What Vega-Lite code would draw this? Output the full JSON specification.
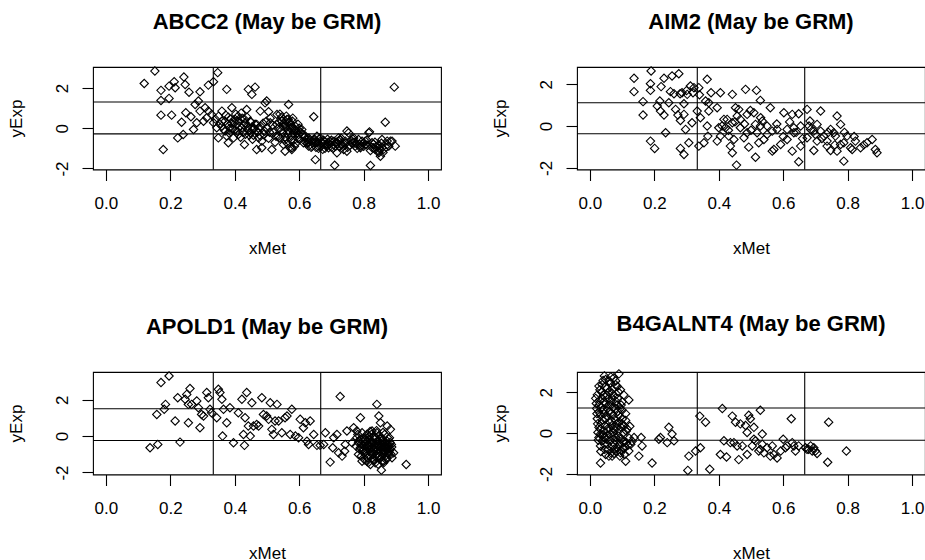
{
"$schema": "https://vega.github.io/schema/vega-lite/v6.json",
"background": "white",
"padding": {"left": 6, "top": 10, "right": 0, "bottom": 0},
"bounds": "flush",
"columns": 2,
"spacing": {"row": 202, "column": 136},
"resolve": {"scale": {"x": "independent", "y": "independent"}},
"datasets": {
"abcc2": [
{"xMet":0.152,"yExp":2.84},{"xMet":0.119,"yExp":2.22},{"xMet":0.171,"yExp":1.88},{"xMet":0.196,"yExp":2.09},{"xMet":0.212,"yExp":2.31},{"xMet":0.215,"yExp":2.01},{"xMet":0.242,"yExp":2.54},{"xMet":0.246,"yExp":2.17},{"xMet":0.258,"yExp":1.79},{"xMet":0.292,"yExp":1.81},{"xMet":0.318,"yExp":2.14},{"xMet":0.334,"yExp":2.31},{"xMet":0.347,"yExp":2.76},{"xMet":0.171,"yExp":1.38},{"xMet":0.196,"yExp":1.48},{"xMet":0.171,"yExp":0.65},{"xMet":0.204,"yExp":0.65},{"xMet":0.248,"yExp":0.77},{"xMet":0.235,"yExp":0.30},{"xMet":0.264,"yExp":0.57},{"xMet":0.277,"yExp":1.18},{"xMet":0.287,"yExp":1.35},{"xMet":0.292,"yExp":0.85},{"xMet":0.282,"yExp":0.27},{"xMet":0.303,"yExp":0.35},{"xMet":0.272,"yExp":-0.06},{"xMet":0.240,"yExp":-0.31},{"xMet":0.223,"yExp":-0.48},{"xMet":0.178,"yExp":-1.06},{"xMet":0.318,"yExp":0.85},{"xMet":0.328,"yExp":0.68},{"xMet":0.334,"yExp":0.27},{"xMet":0.344,"yExp":0.02},{"xMet":0.354,"yExp":0.19},{"xMet":0.349,"yExp":-0.48},{"xMet":0.370,"yExp":-0.14},{"xMet":0.380,"yExp":-0.72},{"xMet":0.391,"yExp":1.02},{"xMet":0.401,"yExp":0.44},{"xMet":0.411,"yExp":-0.31},{"xMet":0.422,"yExp":0.02},{"xMet":0.430,"yExp":-0.81},{"xMet":0.437,"yExp":0.93},{"xMet":0.442,"yExp":1.93},{"xMet":0.463,"yExp":2.04},{"xMet":0.453,"yExp":1.68},{"xMet":0.468,"yExp":0.19},{"xMet":0.474,"yExp":-0.48},{"xMet":0.479,"yExp":0.85},{"xMet":0.468,"yExp":-1.06},{"xMet":0.308,"yExp":1.02},{"xMet":0.313,"yExp":0.52},{"xMet":0.360,"yExp":0.85},{"xMet":0.375,"yExp":-0.39},{"xMet":0.396,"yExp":-0.48},{"xMet":0.406,"yExp":0.19},{"xMet":0.432,"yExp":0.27},{"xMet":0.448,"yExp":-0.23},{"xMet":0.458,"yExp":-0.06},{"xMet":0.484,"yExp":-0.64},{"xMet":0.494,"yExp":1.26},{"xMet":0.375,"yExp":1.93},
{"xMet":0.499,"yExp":1.35},{"xMet":0.505,"yExp":0.82},{"xMet":0.510,"yExp":0.27},{"xMet":0.515,"yExp":-1.06},{"xMet":0.531,"yExp":0.68},{"xMet":0.536,"yExp":0.02},{"xMet":0.541,"yExp":-0.48},{"xMet":0.546,"yExp":0.35},{"xMet":0.551,"yExp":-0.81},{"xMet":0.556,"yExp":-1.14},{"xMet":0.562,"yExp":0.44},{"xMet":0.567,"yExp":1.18},{"xMet":0.572,"yExp":0.02},{"xMet":0.577,"yExp":-0.97},{"xMet":0.582,"yExp":-0.23},{"xMet":0.588,"yExp":0.10},{"xMet":0.598,"yExp":-0.31},{"xMet":0.608,"yExp":-0.06},{"xMet":0.613,"yExp":-0.72},{"xMet":0.624,"yExp":-0.56},{"xMet":0.629,"yExp":-0.89},{"xMet":0.639,"yExp":-0.64},{"xMet":0.645,"yExp":0.57},{"xMet":0.650,"yExp":-1.56},{"xMet":0.660,"yExp":-0.89},{"xMet":0.665,"yExp":-0.48},{"xMet":0.670,"yExp":-0.72},{"xMet":0.681,"yExp":-0.81},{"xMet":0.691,"yExp":-0.97},{"xMet":0.696,"yExp":-0.64},{"xMet":0.707,"yExp":-0.81},{"xMet":0.710,"yExp":-1.84},{"xMet":0.717,"yExp":-1.22},{"xMet":0.722,"yExp":-0.48},{"xMet":0.733,"yExp":-0.81},{"xMet":0.743,"yExp":-0.64},{"xMet":0.748,"yExp":-1.14},{"xMet":0.753,"yExp":-0.23},{"xMet":0.764,"yExp":-0.72},{"xMet":0.774,"yExp":-0.89},{"xMet":0.784,"yExp":-0.56},{"xMet":0.790,"yExp":-0.97},{"xMet":0.795,"yExp":-0.64},{"xMet":0.805,"yExp":-0.81},{"xMet":0.816,"yExp":-0.23},{"xMet":0.821,"yExp":-1.85},{"xMet":0.826,"yExp":-0.72},{"xMet":0.836,"yExp":-1.06},{"xMet":0.847,"yExp":-1.14},{"xMet":0.852,"yExp":-1.39},{"xMet":0.857,"yExp":-0.97},{"xMet":0.867,"yExp":0.30},{"xMet":0.873,"yExp":-0.64},{"xMet":0.878,"yExp":-0.89},{"xMet":0.888,"yExp":-0.64},{"xMet":0.898,"yExp":-0.89},{"xMet":0.895,"yExp":2.04},
{"xMet":0.551,"yExp":0.44},{"xMet":0.556,"yExp":0.19},{"xMet":0.567,"yExp":0.27},{"xMet":0.577,"yExp":0.02},{"xMet":0.598,"yExp":-0.14},{"xMet":0.619,"yExp":-0.39},{"xMet":0.629,"yExp":-0.72},{"xMet":0.645,"yExp":-0.56},{"xMet":0.686,"yExp":-0.81},{"xMet":0.722,"yExp":-0.64},{"xMet":0.738,"yExp":-1.06},{"xMet":0.748,"yExp":-0.14},{"xMet":0.769,"yExp":-0.48},{"xMet":0.790,"yExp":-0.89},{"xMet":0.805,"yExp":-0.64},{"xMet":0.818,"yExp":-0.18},{"xMet":0.821,"yExp":-1.11},{"xMet":0.831,"yExp":-0.97},{"xMet":0.847,"yExp":-1.22},{"xMet":0.857,"yExp":-0.56},{"xMet":0.873,"yExp":-0.81},{"xMet":0.883,"yExp":-0.64},{"xMet":0.577,"yExp":-1.06},{"xMet":0.484,"yExp":-0.97},
{"xMet":0.34,"yExp":0.45},{"xMet":0.35,"yExp":0.6},{"xMet":0.36,"yExp":0.1},{"xMet":0.37,"yExp":0.35},{"xMet":0.38,"yExp":0.55},{"xMet":0.385,"yExp":0.0},{"xMet":0.39,"yExp":0.25},{"xMet":0.40,"yExp":-0.1},{"xMet":0.41,"yExp":0.6},{"xMet":0.415,"yExp":0.1},{"xMet":0.42,"yExp":0.75},{"xMet":0.425,"yExp":-0.2},{"xMet":0.43,"yExp":0.45},{"xMet":0.44,"yExp":0.1},{"xMet":0.445,"yExp":-0.35},{"xMet":0.45,"yExp":0.3},{"xMet":0.455,"yExp":-0.55},{"xMet":0.46,"yExp":0.0},{"xMet":0.47,"yExp":-0.2},{"xMet":0.48,"yExp":0.1},{"xMet":0.49,"yExp":-0.3},{"xMet":0.50,"yExp":0.0},{"xMet":0.505,"yExp":-0.5},{"xMet":0.51,"yExp":0.5},{"xMet":0.52,"yExp":-0.2},{"xMet":0.525,"yExp":-0.7},{"xMet":0.53,"yExp":0.2},{"xMet":0.535,"yExp":-0.4},{"xMet":0.54,"yExp":0.7},{"xMet":0.545,"yExp":-0.1},{"xMet":0.55,"yExp":0.1},{"xMet":0.555,"yExp":-0.6},{"xMet":0.56,"yExp":0.6},{"xMet":0.565,"yExp":-0.3},{"xMet":0.57,"yExp":0.3},{"xMet":0.575,"yExp":-0.6},{"xMet":0.58,"yExp":0.5},{"xMet":0.585,"yExp":-0.9},{"xMet":0.59,"yExp":-0.1},{"xMet":0.595,"yExp":-0.5},{"xMet":0.60,"yExp":0.0},{"xMet":0.61,"yExp":-0.3},{"xMet":0.62,"yExp":-0.7},{"xMet":0.63,"yExp":-0.5},{"xMet":0.64,"yExp":-0.9},{"xMet":0.65,"yExp":-0.7},{"xMet":0.655,"yExp":-0.4},{"xMet":0.66,"yExp":-1.0},{"xMet":0.675,"yExp":-0.6},{"xMet":0.68,"yExp":-1.0},{"xMet":0.69,"yExp":-0.7},{"xMet":0.70,"yExp":-0.6},{"xMet":0.705,"yExp":-1.0},{"xMet":0.715,"yExp":-0.7},{"xMet":0.725,"yExp":-0.9},{"xMet":0.73,"yExp":-0.5},{"xMet":0.74,"yExp":-0.8},{"xMet":0.75,"yExp":-0.95},{"xMet":0.76,"yExp":-0.6},{"xMet":0.77,"yExp":-0.7},{"xMet":0.78,"yExp":-1.0},{"xMet":0.80,"yExp":-0.9},{"xMet":0.81,"yExp":-0.6},{"xMet":0.83,"yExp":-0.8},{"xMet":0.84,"yExp":-0.9},{"xMet":0.85,"yExp":-1.0},{"xMet":0.86,"yExp":-1.2},{"xMet":0.87,"yExp":-0.95},
{"xMet":0.545,"yExp":0.55},{"xMet":0.550,"yExp":-0.25},{"xMet":0.553,"yExp":0.25},{"xMet":0.557,"yExp":-0.45},{"xMet":0.560,"yExp":0.05},{"xMet":0.563,"yExp":-0.75},{"xMet":0.566,"yExp":0.45},{"xMet":0.568,"yExp":-0.15},{"xMet":0.571,"yExp":-0.95},{"xMet":0.574,"yExp":0.15},{"xMet":0.576,"yExp":-0.40},{"xMet":0.579,"yExp":0.35},{"xMet":0.583,"yExp":-0.60},{"xMet":0.586,"yExp":-0.05},{"xMet":0.590,"yExp":-0.75},{"xMet":0.593,"yExp":-0.25},{"xMet":0.596,"yExp":0.20},{"xMet":0.600,"yExp":-0.55},{"xMet":0.605,"yExp":-0.20},{"xMet":0.615,"yExp":-0.45},{"xMet":0.625,"yExp":-0.75},{"xMet":0.632,"yExp":-0.60},{"xMet":0.637,"yExp":-0.95},{"xMet":0.642,"yExp":-0.75},{"xMet":0.648,"yExp":-0.55},{"xMet":0.652,"yExp":-0.95},{"xMet":0.658,"yExp":-0.70},{"xMet":0.662,"yExp":-0.55},{"xMet":0.668,"yExp":-0.90},{"xMet":0.673,"yExp":-1.05},{"xMet":0.678,"yExp":-0.65},{"xMet":0.684,"yExp":-0.90},{"xMet":0.688,"yExp":-0.55},{"xMet":0.694,"yExp":-0.80},{"xMet":0.700,"yExp":-0.95},{"xMet":0.708,"yExp":-0.65},{"xMet":0.713,"yExp":-0.90},{"xMet":0.719,"yExp":-0.75},{"xMet":0.727,"yExp":-0.60},{"xMet":0.735,"yExp":-0.90},{"xMet":0.745,"yExp":-0.75},{"xMet":0.758,"yExp":-0.85},{"xMet":0.767,"yExp":-0.55},{"xMet":0.776,"yExp":-0.75},{"xMet":0.787,"yExp":-0.80},{"xMet":0.798,"yExp":-0.75},{"xMet":0.812,"yExp":-0.85},{"xMet":0.825,"yExp":-0.95},{"xMet":0.835,"yExp":-0.70},{"xMet":0.845,"yExp":-0.85},{"xMet":0.855,"yExp":-0.75},{"xMet":0.862,"yExp":-1.05},{"xMet":0.36,"yExp":0.35},{"xMet":0.365,"yExp":-0.05},{"xMet":0.372,"yExp":0.65},{"xMet":0.378,"yExp":0.2},{"xMet":0.383,"yExp":-0.25},{"xMet":0.388,"yExp":0.45},{"xMet":0.393,"yExp":-0.05},{"xMet":0.398,"yExp":0.3},{"xMet":0.403,"yExp":0.7},{"xMet":0.408,"yExp":-0.15},{"xMet":0.413,"yExp":0.35},{"xMet":0.418,"yExp":-0.45},{"xMet":0.423,"yExp":0.5},{"xMet":0.428,"yExp":0.15},{"xMet":0.433,"yExp":-0.3},{"xMet":0.438,"yExp":0.55},{"xMet":0.443,"yExp":-0.1},{"xMet":0.448,"yExp":0.35},{"xMet":0.453,"yExp":0.05},{"xMet":0.458,"yExp":-0.35},{"xMet":0.463,"yExp":0.2},{"xMet":0.473,"yExp":0.0},{"xMet":0.478,"yExp":-0.35},{"xMet":0.488,"yExp":0.25},{"xMet":0.493,"yExp":-0.15},{"xMet":0.498,"yExp":0.35},{"xMet":0.508,"yExp":-0.2},{"xMet":0.518,"yExp":0.15},{"xMet":0.528,"yExp":-0.4},{"xMet":0.538,"yExp":0.3}
],
"aim2": [
{"xMet":0.137,"yExp":2.29},{"xMet":0.190,"yExp":2.64},{"xMet":0.230,"yExp":2.29},{"xMet":0.255,"yExp":2.40},{"xMet":0.276,"yExp":2.51},{"xMet":0.137,"yExp":1.65},{"xMet":0.188,"yExp":2.03},{"xMet":0.188,"yExp":1.71},{"xMet":0.221,"yExp":1.89},{"xMet":0.250,"yExp":1.65},{"xMet":0.261,"yExp":1.55},{"xMet":0.286,"yExp":1.60},{"xMet":0.302,"yExp":1.52},{"xMet":0.312,"yExp":1.92},{"xMet":0.323,"yExp":1.84},{"xMet":0.338,"yExp":1.84},{"xMet":0.364,"yExp":2.24},{"xMet":0.376,"yExp":1.60},{"xMet":0.405,"yExp":1.60},{"xMet":0.442,"yExp":1.52},{"xMet":0.483,"yExp":1.76},{"xMet":0.517,"yExp":1.71},{"xMet":0.529,"yExp":1.23},{"xMet":0.165,"yExp":1.17},{"xMet":0.165,"yExp":0.53},{"xMet":0.217,"yExp":1.20},{"xMet":0.209,"yExp":0.96},{"xMet":0.219,"yExp":0.72},{"xMet":0.230,"yExp":0.53},{"xMet":0.245,"yExp":1.12},{"xMet":0.266,"yExp":0.80},{"xMet":0.273,"yExp":0.53},{"xMet":0.281,"yExp":0.27},{"xMet":0.292,"yExp":0.56},{"xMet":0.297,"yExp":-0.16},{"xMet":0.292,"yExp":1.07},{"xMet":0.333,"yExp":0.72},{"xMet":0.343,"yExp":0.40},{"xMet":0.359,"yExp":1.20},{"xMet":0.369,"yExp":1.12},{"xMet":0.369,"yExp":0.72},{"xMet":0.364,"yExp":0.00},{"xMet":0.366,"yExp":-0.48},{"xMet":0.395,"yExp":0.88},{"xMet":0.400,"yExp":-0.08},{"xMet":0.416,"yExp":0.32},{"xMet":0.421,"yExp":-0.08},{"xMet":0.431,"yExp":-0.48},{"xMet":0.442,"yExp":0.16},{"xMet":0.452,"yExp":0.88},{"xMet":0.457,"yExp":0.48},{"xMet":0.462,"yExp":0.80},{"xMet":0.467,"yExp":-0.08},{"xMet":0.478,"yExp":-0.56},{"xMet":0.488,"yExp":0.56},{"xMet":0.498,"yExp":0.75},{"xMet":0.509,"yExp":0.64},{"xMet":0.514,"yExp":0.08},{"xMet":0.519,"yExp":-0.32},{"xMet":0.535,"yExp":0.24},{"xMet":0.550,"yExp":0.00},{"xMet":0.560,"yExp":0.88},{"xMet":0.566,"yExp":-0.24},{"xMet":0.571,"yExp":-1.12},{"xMet":0.602,"yExp":0.64},{"xMet":0.612,"yExp":-0.16},{"xMet":0.628,"yExp":0.56},{"xMet":0.633,"yExp":-0.32},{"xMet":0.648,"yExp":0.59},{"xMet":0.654,"yExp":0.00},{"xMet":0.674,"yExp":0.80},{"xMet":0.683,"yExp":0.24},{"xMet":0.695,"yExp":-0.24},{"xMet":0.716,"yExp":0.72},{"xMet":0.705,"yExp":-0.72},{"xMet":0.726,"yExp":-0.48},{"xMet":0.736,"yExp":-0.72},{"xMet":0.747,"yExp":-0.16},{"xMet":0.762,"yExp":-0.48},{"xMet":0.767,"yExp":0.48},{"xMet":0.778,"yExp":0.08},{"xMet":0.788,"yExp":-0.80},{"xMet":0.798,"yExp":-0.48},{"xMet":0.809,"yExp":-1.04},{"xMet":0.824,"yExp":-0.72},{"xMet":0.840,"yExp":-1.04},{"xMet":0.860,"yExp":-0.80},{"xMet":0.876,"yExp":-0.64},{"xMet":0.886,"yExp":-1.12},{"xMet":0.891,"yExp":-1.28},{"xMet":0.235,"yExp":-0.32},{"xMet":0.188,"yExp":-0.72},{"xMet":0.201,"yExp":-1.07},{"xMet":0.281,"yExp":-1.07},{"xMet":0.292,"yExp":-1.36},{"xMet":0.307,"yExp":-0.80},{"xMet":0.338,"yExp":-0.96},{"xMet":0.354,"yExp":-0.80},{"xMet":0.395,"yExp":-0.72},{"xMet":0.436,"yExp":-0.96},{"xMet":0.442,"yExp":-1.28},{"xMet":0.455,"yExp":-1.87},{"xMet":0.493,"yExp":-1.01},{"xMet":0.514,"yExp":-1.49},{"xMet":0.524,"yExp":-0.80},{"xMet":0.566,"yExp":-1.20},{"xMet":0.592,"yExp":-0.88},{"xMet":0.628,"yExp":-1.20},{"xMet":0.648,"yExp":-1.71},{"xMet":0.654,"yExp":-0.96},{"xMet":0.695,"yExp":-1.17},{"xMet":0.736,"yExp":-0.96},{"xMet":0.747,"yExp":-1.17},{"xMet":0.767,"yExp":-1.20},{"xMet":0.788,"yExp":-1.68},{"xMet":0.814,"yExp":-1.12},{"xMet":0.317,"yExp":0.16},{"xMet":0.405,"yExp":-0.48},{"xMet":0.447,"yExp":-0.64},{"xMet":0.488,"yExp":-0.32},{"xMet":0.540,"yExp":-0.64},{"xMet":0.612,"yExp":-0.64},{"xMet":0.674,"yExp":-0.56},{"xMet":0.716,"yExp":-0.24},{"xMet":0.757,"yExp":-0.32},{"xMet":0.778,"yExp":-0.88},{"xMet":0.426,"yExp":0.32},{"xMet":0.467,"yExp":0.32},{"xMet":0.529,"yExp":0.00},{"xMet":0.581,"yExp":-0.16},{"xMet":0.633,"yExp":-0.08},{"xMet":0.685,"yExp":-0.16},{"xMet":0.705,"yExp":0.08},
{"xMet":0.45,"yExp":0.2},{"xMet":0.48,"yExp":0.1},{"xMet":0.50,"yExp":-0.2},{"xMet":0.53,"yExp":0.4},{"xMet":0.55,"yExp":-0.4},{"xMet":0.58,"yExp":0.1},{"xMet":0.60,"yExp":-0.5},{"xMet":0.62,"yExp":0.2},{"xMet":0.64,"yExp":-0.3},{"xMet":0.66,"yExp":-0.6},{"xMet":0.68,"yExp":0.0},{"xMet":0.70,"yExp":-0.4},{"xMet":0.72,"yExp":-0.6},{"xMet":0.74,"yExp":-0.3},{"xMet":0.76,"yExp":-0.9},{"xMet":0.79,"yExp":-0.3},{"xMet":0.82,"yExp":-0.5},{"xMet":0.85,"yExp":-0.9},{"xMet":0.41,"yExp":0.0},{"xMet":0.43,"yExp":-0.2},{"xMet":0.30,"yExp":1.7},{"xMet":0.32,"yExp":1.6},{"xMet":0.34,"yExp":1.5},{"xMet":0.28,"yExp":1.55}
],
"apold1": [
{"xMet":0.171,"yExp":2.94},{"xMet":0.196,"yExp":3.30},{"xMet":0.137,"yExp":-0.64},{"xMet":0.161,"yExp":-0.46},{"xMet":0.158,"yExp":1.19},{"xMet":0.181,"yExp":1.47},{"xMet":0.185,"yExp":1.74},{"xMet":0.215,"yExp":0.83},{"xMet":0.230,"yExp":-0.33},{"xMet":0.223,"yExp":2.11},{"xMet":0.246,"yExp":2.02},{"xMet":0.251,"yExp":2.29},{"xMet":0.261,"yExp":2.61},{"xMet":0.256,"yExp":1.74},{"xMet":0.256,"yExp":0.73},{"xMet":0.266,"yExp":1.74},{"xMet":0.282,"yExp":1.93},{"xMet":0.287,"yExp":1.56},{"xMet":0.292,"yExp":0.46},{"xMet":0.297,"yExp":1.19},{"xMet":0.303,"yExp":1.10},{"xMet":0.313,"yExp":2.39},{"xMet":0.318,"yExp":2.11},{"xMet":0.323,"yExp":1.47},{"xMet":0.328,"yExp":1.28},{"xMet":0.344,"yExp":1.01},{"xMet":0.349,"yExp":2.57},{"xMet":0.354,"yExp":2.39},{"xMet":0.360,"yExp":2.02},{"xMet":0.362,"yExp":0.00},{"xMet":0.365,"yExp":1.47},{"xMet":0.375,"yExp":0.73},{"xMet":0.385,"yExp":1.56},{"xMet":0.396,"yExp":-0.37},{"xMet":0.411,"yExp":1.28},{"xMet":0.422,"yExp":2.02},{"xMet":0.427,"yExp":0.09},{"xMet":0.430,"yExp":-0.51},{"xMet":0.432,"yExp":1.01},{"xMet":0.437,"yExp":2.39},{"xMet":0.442,"yExp":0.55},{"xMet":0.448,"yExp":0.00},{"xMet":0.453,"yExp":1.83},{"xMet":0.458,"yExp":0.55},{"xMet":0.468,"yExp":0.64},{"xMet":0.474,"yExp":0.55},{"xMet":0.484,"yExp":2.11},{"xMet":0.489,"yExp":1.19},{"xMet":0.499,"yExp":1.10},{"xMet":0.505,"yExp":0.92},{"xMet":0.510,"yExp":1.83},{"xMet":0.515,"yExp":0.37},{"xMet":0.520,"yExp":0.09},{"xMet":0.525,"yExp":0.83},{"xMet":0.531,"yExp":1.74},{"xMet":0.536,"yExp":0.83},{"xMet":0.546,"yExp":0.18},{"xMet":0.556,"yExp":1.01},{"xMet":0.562,"yExp":1.10},{"xMet":0.572,"yExp":0.09},{"xMet":0.577,"yExp":1.47},{"xMet":0.588,"yExp":0.00},{"xMet":0.598,"yExp":-0.09},{"xMet":0.603,"yExp":0.92},{"xMet":0.613,"yExp":0.46},{"xMet":0.619,"yExp":0.73},{"xMet":0.624,"yExp":-0.28},{"xMet":0.629,"yExp":-0.46},{"xMet":0.634,"yExp":0.83},{"xMet":0.645,"yExp":0.09},{"xMet":0.655,"yExp":-0.51},{"xMet":0.665,"yExp":-0.51},{"xMet":0.676,"yExp":-0.46},{"xMet":0.681,"yExp":0.18},{"xMet":0.696,"yExp":-1.43},{"xMet":0.704,"yExp":-0.64},{"xMet":0.707,"yExp":-0.09},{"xMet":0.717,"yExp":0.09},{"xMet":0.727,"yExp":2.17},{"xMet":0.733,"yExp":-1.10},{"xMet":0.741,"yExp":-0.83},{"xMet":0.743,"yExp":-0.46},{"xMet":0.748,"yExp":0.28},{"xMet":0.764,"yExp":-0.37},{"xMet":0.769,"yExp":0.46},{"xMet":0.779,"yExp":0.28},{"xMet":0.790,"yExp":1.01},{"xMet":0.784,"yExp":-1.01},{"xMet":0.795,"yExp":-1.38},{"xMet":0.805,"yExp":-0.18},{"xMet":0.816,"yExp":-0.55},{"xMet":0.826,"yExp":0.28},{"xMet":0.831,"yExp":-1.28},{"xMet":0.841,"yExp":1.74},{"xMet":0.847,"yExp":1.10},{"xMet":0.852,"yExp":0.73},{"xMet":0.855,"yExp":-1.87},{"xMet":0.862,"yExp":-1.38},{"xMet":0.873,"yExp":0.55},{"xMet":0.878,"yExp":-0.55},{"xMet":0.883,"yExp":0.37},{"xMet":0.888,"yExp":-1.19},{"xMet":0.893,"yExp":-0.92},{"xMet":0.932,"yExp":-1.56},{"xMet":0.722,"yExp":-0.92},
{"xMet":0.779,"yExp":-0.09},{"xMet":0.784,"yExp":-0.37},{"xMet":0.790,"yExp":-0.64},{"xMet":0.795,"yExp":0.18},{"xMet":0.800,"yExp":-0.28},{"xMet":0.803,"yExp":-0.92},{"xMet":0.807,"yExp":-0.55},{"xMet":0.810,"yExp":0.09},{"xMet":0.813,"yExp":-1.19},{"xMet":0.818,"yExp":-0.73},{"xMet":0.821,"yExp":-0.37},{"xMet":0.824,"yExp":0.09},{"xMet":0.828,"yExp":-1.01},{"xMet":0.831,"yExp":-0.55},{"xMet":0.834,"yExp":-0.18},{"xMet":0.836,"yExp":-1.47},{"xMet":0.838,"yExp":-0.83},{"xMet":0.841,"yExp":0.18},{"xMet":0.845,"yExp":-0.46},{"xMet":0.849,"yExp":-1.10},{"xMet":0.852,"yExp":-0.64},{"xMet":0.855,"yExp":-0.09},{"xMet":0.857,"yExp":-0.92},{"xMet":0.859,"yExp":-0.37},{"xMet":0.862,"yExp":-0.73},{"xMet":0.865,"yExp":0.09},{"xMet":0.867,"yExp":-1.10},{"xMet":0.869,"yExp":-0.55},{"xMet":0.873,"yExp":-0.28},{"xMet":0.876,"yExp":-0.92},{"xMet":0.880,"yExp":-0.09},{"xMet":0.883,"yExp":-0.73},{"xMet":0.886,"yExp":-0.46},{"xMet":0.787,"yExp":-0.73},{"xMet":0.793,"yExp":-1.10},{"xMet":0.805,"yExp":-1.01},{"xMet":0.816,"yExp":-0.18},{"xMet":0.826,"yExp":-0.64},{"xMet":0.836,"yExp":-0.46},{"xMet":0.847,"yExp":-0.28},{"xMet":0.857,"yExp":-1.38},{"xMet":0.867,"yExp":-0.83},{"xMet":0.878,"yExp":-1.01},{"xMet":0.810,"yExp":-1.38},{"xMet":0.821,"yExp":-1.56},{"xMet":0.800,"yExp":-0.55},{"xMet":0.790,"yExp":-0.18},{"xMet":0.831,"yExp":0.00},{"xMet":0.841,"yExp":-1.19},{"xMet":0.852,"yExp":-0.18},{"xMet":0.862,"yExp":-1.47},{"xMet":0.776,"yExp":-0.55},{"xMet":0.782,"yExp":0.09},{"xMet":0.797,"yExp":-0.83},{"xMet":0.813,"yExp":-0.46},{"xMet":0.824,"yExp":-0.83},{"xMet":0.834,"yExp":-0.73},{"xMet":0.845,"yExp":-0.73},{"xMet":0.855,"yExp":-0.55},{"xMet":0.865,"yExp":-0.55},{"xMet":0.876,"yExp":-0.64},
{"xMet":0.785,"yExp":-0.25},{"xMet":0.792,"yExp":-0.45},{"xMet":0.798,"yExp":-0.70},{"xMet":0.802,"yExp":-0.10},{"xMet":0.806,"yExp":-0.85},{"xMet":0.809,"yExp":-0.30},{"xMet":0.812,"yExp":-0.65},{"xMet":0.815,"yExp":-1.05},{"xMet":0.817,"yExp":0.00},{"xMet":0.819,"yExp":-0.50},{"xMet":0.822,"yExp":-0.90},{"xMet":0.825,"yExp":-0.25},{"xMet":0.827,"yExp":-1.25},{"xMet":0.829,"yExp":-0.40},{"xMet":0.832,"yExp":-0.80},{"xMet":0.835,"yExp":-0.05},{"xMet":0.837,"yExp":-0.60},{"xMet":0.839,"yExp":-1.05},{"xMet":0.842,"yExp":-0.30},{"xMet":0.844,"yExp":-0.95},{"xMet":0.846,"yExp":-0.55},{"xMet":0.848,"yExp":0.05},{"xMet":0.850,"yExp":-0.80},{"xMet":0.853,"yExp":-0.40},{"xMet":0.856,"yExp":-1.15},{"xMet":0.858,"yExp":-0.20},{"xMet":0.860,"yExp":-0.60},{"xMet":0.863,"yExp":-0.95},{"xMet":0.866,"yExp":-0.35},{"xMet":0.868,"yExp":-0.70},{"xMet":0.871,"yExp":-1.20},{"xMet":0.874,"yExp":-0.50},{"xMet":0.877,"yExp":-0.15},{"xMet":0.879,"yExp":-0.80},{"xMet":0.882,"yExp":-0.35},{"xMet":0.885,"yExp":-1.00},{"xMet":0.887,"yExp":-0.60},{"xMet":0.820,"yExp":0.25},{"xMet":0.840,"yExp":0.30},{"xMet":0.860,"yExp":0.20},{"xMet":0.803,"yExp":-1.30},{"xMet":0.833,"yExp":-1.35},{"xMet":0.870,"yExp":-1.30},{"xMet":0.815,"yExp":-1.45},{"xMet":0.845,"yExp":-1.55}
],
"b4galnt4": [
{"xMet":0.090,"yExp":2.90},{"xMet":0.074,"yExp":2.70},{"xMet":0.041,"yExp":2.57},{"xMet":0.064,"yExp":2.45},{"xMet":0.054,"yExp":2.20},{"xMet":0.085,"yExp":2.28},{"xMet":0.095,"yExp":2.12},{"xMet":0.023,"yExp":1.87},{"xMet":0.038,"yExp":1.70},{"xMet":0.069,"yExp":1.95},{"xMet":0.105,"yExp":1.87},{"xMet":0.121,"yExp":1.62},{"xMet":0.028,"yExp":1.37},{"xMet":0.054,"yExp":1.20},{"xMet":0.085,"yExp":1.37},{"xMet":0.100,"yExp":1.12},{"xMet":0.033,"yExp":0.87},{"xMet":0.064,"yExp":0.95},{"xMet":0.095,"yExp":0.78},{"xMet":0.111,"yExp":0.62},{"xMet":0.028,"yExp":0.28},{"xMet":0.043,"yExp":0.12},{"xMet":0.074,"yExp":0.20},{"xMet":0.124,"yExp":0.33},{"xMet":0.028,"yExp":-0.22},{"xMet":0.054,"yExp":-0.13},{"xMet":0.080,"yExp":-0.22},{"xMet":0.105,"yExp":-0.38},{"xMet":0.137,"yExp":-0.22},{"xMet":0.159,"yExp":-0.22},{"xMet":0.033,"yExp":-0.63},{"xMet":0.049,"yExp":-1.05},{"xMet":0.074,"yExp":-0.80},{"xMet":0.095,"yExp":-0.97},{"xMet":0.111,"yExp":-1.38},{"xMet":0.033,"yExp":-1.47},{"xMet":0.069,"yExp":-1.13},{"xMet":0.152,"yExp":-1.13},{"xMet":0.162,"yExp":-0.63},{"xMet":0.193,"yExp":-1.47},{"xMet":0.214,"yExp":-0.30},{"xMet":0.219,"yExp":-0.22},{"xMet":0.245,"yExp":0.28},{"xMet":0.255,"yExp":-0.05},{"xMet":0.261,"yExp":-0.38},{"xMet":0.240,"yExp":-0.47},{"xMet":0.307,"yExp":-1.13},{"xMet":0.304,"yExp":-1.83},{"xMet":0.328,"yExp":-0.88},{"xMet":0.343,"yExp":-0.72},{"xMet":0.341,"yExp":0.83},{"xMet":0.359,"yExp":0.53},{"xMet":0.372,"yExp":-1.77},{"xMet":0.411,"yExp":1.20},{"xMet":0.405,"yExp":-1.05},{"xMet":0.416,"yExp":-0.38},{"xMet":0.424,"yExp":-1.17},{"xMet":0.442,"yExp":0.83},{"xMet":0.447,"yExp":-0.47},{"xMet":0.452,"yExp":0.53},{"xMet":0.462,"yExp":-1.30},{"xMet":0.467,"yExp":0.45},{"xMet":0.473,"yExp":-0.63},{"xMet":0.483,"yExp":0.37},{"xMet":0.488,"yExp":0.03},{"xMet":0.493,"yExp":0.87},{"xMet":0.498,"yExp":0.70},{"xMet":0.504,"yExp":-0.63},{"xMet":0.509,"yExp":0.28},{"xMet":0.514,"yExp":-0.38},{"xMet":0.524,"yExp":-0.88},{"xMet":0.529,"yExp":1.12},{"xMet":0.535,"yExp":-0.05},{"xMet":0.535,"yExp":-0.55},{"xMet":0.540,"yExp":-0.97},{"xMet":0.550,"yExp":-0.72},{"xMet":0.560,"yExp":-1.13},{"xMet":0.566,"yExp":-0.63},{"xMet":0.571,"yExp":-1.05},{"xMet":0.581,"yExp":-1.22},{"xMet":0.592,"yExp":-0.88},{"xMet":0.600,"yExp":-0.30},{"xMet":0.607,"yExp":-0.72},{"xMet":0.625,"yExp":0.70},{"xMet":0.628,"yExp":-0.47},{"xMet":0.633,"yExp":-0.63},{"xMet":0.638,"yExp":-0.88},{"xMet":0.648,"yExp":-0.63},{"xMet":0.669,"yExp":-0.72},{"xMet":0.679,"yExp":-0.80},{"xMet":0.690,"yExp":-0.88},{"xMet":0.695,"yExp":-0.72},{"xMet":0.705,"yExp":-1.00},{"xMet":0.741,"yExp":0.53},{"xMet":0.738,"yExp":-1.43},{"xMet":0.796,"yExp":-0.88},{"xMet":0.509,"yExp":-0.30},{"xMet":0.488,"yExp":-1.05},{"xMet":0.457,"yExp":-0.63},{"xMet":0.436,"yExp":-0.47},{"xMet":0.529,"yExp":-0.80},{"xMet":0.612,"yExp":-0.63},{"xMet":0.674,"yExp":-0.80},{"xMet":0.685,"yExp":-0.63},{"xMet":0.700,"yExp":-0.88},
{"xMet":0.018,"yExp":1.70},{"xMet":0.021,"yExp":1.20},{"xMet":0.023,"yExp":0.70},{"xMet":0.025,"yExp":0.03},{"xMet":0.031,"yExp":2.12},{"xMet":0.035,"yExp":0.45},{"xMet":0.038,"yExp":-0.38},{"xMet":0.041,"yExp":1.12},{"xMet":0.043,"yExp":1.53},{"xMet":0.046,"yExp":-0.80},{"xMet":0.049,"yExp":0.70},{"xMet":0.052,"yExp":1.87},{"xMet":0.054,"yExp":-0.55},{"xMet":0.056,"yExp":0.12},{"xMet":0.059,"yExp":1.37},{"xMet":0.062,"yExp":0.53},{"xMet":0.064,"yExp":-0.38},{"xMet":0.066,"yExp":-0.97},{"xMet":0.069,"yExp":1.70},{"xMet":0.072,"yExp":0.87},{"xMet":0.074,"yExp":-0.13},{"xMet":0.077,"yExp":-0.55},{"xMet":0.080,"yExp":1.20},{"xMet":0.083,"yExp":0.45},{"xMet":0.085,"yExp":-0.72},{"xMet":0.087,"yExp":1.70},{"xMet":0.090,"yExp":0.12},{"xMet":0.093,"yExp":-1.13},{"xMet":0.095,"yExp":-0.30},{"xMet":0.097,"yExp":1.37},{"xMet":0.100,"yExp":0.45},{"xMet":0.103,"yExp":-0.72},{"xMet":0.105,"yExp":0.03},{"xMet":0.108,"yExp":-1.05},{"xMet":0.111,"yExp":0.95},{"xMet":0.114,"yExp":-0.47},{"xMet":0.116,"yExp":0.20},{"xMet":0.121,"yExp":-0.88},{"xMet":0.028,"yExp":1.03},{"xMet":0.038,"yExp":2.37},{"xMet":0.049,"yExp":2.62},{"xMet":0.059,"yExp":2.03},{"xMet":0.080,"yExp":2.37},{"xMet":0.100,"yExp":1.53},{"xMet":0.043,"yExp":-0.22},{"xMet":0.059,"yExp":-1.13},{"xMet":0.069,"yExp":0.37},{"xMet":0.090,"yExp":0.87},{"xMet":0.033,"yExp":-0.05},
{"xMet":0.020,"yExp":1.45},{"xMet":0.022,"yExp":0.95},{"xMet":0.024,"yExp":0.45},{"xMet":0.026,"yExp":-0.35},{"xMet":0.028,"yExp":2.30},{"xMet":0.030,"yExp":1.60},{"xMet":0.032,"yExp":0.20},{"xMet":0.034,"yExp":-0.90},{"xMet":0.036,"yExp":1.25},{"xMet":0.037,"yExp":2.00},{"xMet":0.039,"yExp":0.65},{"xMet":0.040,"yExp":-0.10},{"xMet":0.042,"yExp":1.85},{"xMet":0.044,"yExp":0.95},{"xMet":0.045,"yExp":-0.55},{"xMet":0.047,"yExp":2.25},{"xMet":0.048,"yExp":0.35},{"xMet":0.050,"yExp":1.45},{"xMet":0.051,"yExp":-0.30},{"xMet":0.053,"yExp":0.85},{"xMet":0.055,"yExp":1.65},{"xMet":0.057,"yExp":-0.80},{"xMet":0.058,"yExp":0.25},{"xMet":0.060,"yExp":2.55},{"xMet":0.061,"yExp":1.05},{"xMet":0.063,"yExp":-0.05},{"xMet":0.065,"yExp":1.55},{"xMet":0.067,"yExp":0.60},{"xMet":0.068,"yExp":-0.60},{"xMet":0.070,"yExp":2.15},{"xMet":0.071,"yExp":1.25},{"xMet":0.073,"yExp":0.05},{"xMet":0.075,"yExp":-1.00},{"xMet":0.076,"yExp":1.80},{"xMet":0.078,"yExp":0.65},{"xMet":0.079,"yExp":-0.35},{"xMet":0.081,"yExp":1.55},{"xMet":0.082,"yExp":0.25},{"xMet":0.084,"yExp":-0.90},{"xMet":0.086,"yExp":1.05},{"xMet":0.088,"yExp":-0.15},{"xMet":0.089,"yExp":2.00},{"xMet":0.091,"yExp":0.55},{"xMet":0.092,"yExp":-0.55},{"xMet":0.094,"yExp":1.20},{"xMet":0.096,"yExp":0.30},{"xMet":0.098,"yExp":-0.85},{"xMet":0.101,"yExp":0.70},{"xMet":0.104,"yExp":-0.45},{"xMet":0.107,"yExp":0.35},{"xMet":0.110,"yExp":-0.70},{"xMet":0.113,"yExp":0.10},{"xMet":0.118,"yExp":-0.60},{"xMet":0.122,"yExp":-0.25},{"xMet":0.127,"yExp":-0.55},{"xMet":0.131,"yExp":-0.40},{"xMet":0.045,"yExp":2.80},{"xMet":0.065,"yExp":2.75},{"xMet":0.080,"yExp":2.55}
]
},
"concat": [
{
"width": 348, "height": 102.5,
"title": {"text": "ABCC2 (May be GRM)"},
"layer": [
{"data": {"name": "abcc2"}, "mark": {"type": "point", "shape": "diamond", "filled": false, "color": "black", "size": 70, "strokeWidth": 1.1, "opacity": 1},
"encoding": {
"x": {"field": "xMet", "type": "quantitative", "scale": {"domain": [-0.04, 1.04], "nice": false, "zero": false}, "axis": {"values": [0, 0.2, 0.4, 0.6, 0.8, 1.0], "format": ".1f", "title": "xMet"}},
"y": {"field": "yExp", "type": "quantitative", "scale": {"domain": [-2.05, 3.04], "nice": false, "zero": false}, "axis": {"values": [-2, -1, 0, 1, 2, 3], "labelExpr": "datum.value % 2 == 0 ? toString(datum.value) : ''", "title": "yExp"}}}},
{"data": {"values": [{"yExp": 1.30}, {"yExp": -0.28}]}, "mark": {"type": "rule", "color": "black", "strokeWidth": 1.1}, "encoding": {"y": {"field": "yExp", "type": "quantitative"}}},
{"data": {"values": [{"xMet": 0.3333}, {"xMet": 0.6667}]}, "mark": {"type": "rule", "color": "black", "strokeWidth": 1.1}, "encoding": {"x": {"field": "xMet", "type": "quantitative"}}}
]
},
{
"width": 348, "height": 102.5,
"title": {"text": "AIM2 (May be GRM)"},
"layer": [
{"data": {"name": "aim2"}, "mark": {"type": "point", "shape": "diamond", "filled": false, "color": "black", "size": 70, "strokeWidth": 1.1, "opacity": 1},
"encoding": {
"x": {"field": "xMet", "type": "quantitative", "scale": {"domain": [-0.04, 1.04], "nice": false, "zero": false}, "axis": {"values": [0, 0.2, 0.4, 0.6, 0.8, 1.0], "format": ".1f", "title": "xMet"}},
"y": {"field": "yExp", "type": "quantitative", "scale": {"domain": [-2.08, 2.83], "nice": false, "zero": false}, "axis": {"values": [-2, -1, 0, 1, 2, 3], "labelExpr": "datum.value % 2 == 0 ? toString(datum.value) : ''", "title": "yExp"}}}},
{"data": {"values": [{"yExp": 1.12}, {"yExp": -0.37}]}, "mark": {"type": "rule", "color": "black", "strokeWidth": 1.1}, "encoding": {"y": {"field": "yExp", "type": "quantitative"}}},
{"data": {"values": [{"xMet": 0.3333}, {"xMet": 0.6667}]}, "mark": {"type": "rule", "color": "black", "strokeWidth": 1.1}, "encoding": {"x": {"field": "xMet", "type": "quantitative"}}}
]
},
{
"width": 348, "height": 102.5,
"title": {"text": "APOLD1 (May be GRM)"},
"layer": [
{"data": {"name": "apold1"}, "mark": {"type": "point", "shape": "diamond", "filled": false, "color": "black", "size": 70, "strokeWidth": 1.1, "opacity": 1},
"encoding": {
"x": {"field": "xMet", "type": "quantitative", "scale": {"domain": [-0.04, 1.04], "nice": false, "zero": false}, "axis": {"values": [0, 0.2, 0.4, 0.6, 0.8, 1.0], "format": ".1f", "title": "xMet"}},
"y": {"field": "yExp", "type": "quantitative", "scale": {"domain": [-2.11, 3.52], "nice": false, "zero": false}, "axis": {"values": [-2, -1, 0, 1, 2, 3], "labelExpr": "datum.value % 2 == 0 ? toString(datum.value) : ''", "title": "yExp"}}}},
{"data": {"values": [{"yExp": 1.50}, {"yExp": -0.24}]}, "mark": {"type": "rule", "color": "black", "strokeWidth": 1.1}, "encoding": {"y": {"field": "yExp", "type": "quantitative"}}},
{"data": {"values": [{"xMet": 0.3333}, {"xMet": 0.6667}]}, "mark": {"type": "rule", "color": "black", "strokeWidth": 1.1}, "encoding": {"x": {"field": "xMet", "type": "quantitative"}}}
]
},
{
"width": 348, "height": 102.5,
"title": {"text": "B4GALNT4 (May be GRM)"},
"layer": [
{"data": {"name": "b4galnt4"}, "mark": {"type": "point", "shape": "diamond", "filled": false, "color": "black", "size": 70, "strokeWidth": 1.1, "opacity": 1},
"encoding": {
"x": {"field": "xMet", "type": "quantitative", "scale": {"domain": [-0.04, 1.04], "nice": false, "zero": false}, "axis": {"values": [0, 0.2, 0.4, 0.6, 0.8, 1.0], "format": ".1f", "title": "xMet"}},
"y": {"field": "yExp", "type": "quantitative", "scale": {"domain": [-2.03, 2.99], "nice": false, "zero": false}, "axis": {"values": [-2, -1, 0, 1, 2, 3], "labelExpr": "datum.value % 2 == 0 ? toString(datum.value) : ''", "title": "yExp"}}}},
{"data": {"values": [{"yExp": 1.23}, {"yExp": -0.35}]}, "mark": {"type": "rule", "color": "black", "strokeWidth": 1.1}, "encoding": {"y": {"field": "yExp", "type": "quantitative"}}},
{"data": {"values": [{"xMet": 0.3333}, {"xMet": 0.6667}]}, "mark": {"type": "rule", "color": "black", "strokeWidth": 1.1}, "encoding": {"x": {"field": "xMet", "type": "quantitative"}}}
]
}
],
"config": {
"font": "Liberation Sans",
"view": {"stroke": "black", "strokeWidth": 1.1},
"axis": {"grid": false, "domain": false, "tickColor": "black", "tickSize": 11, "tickWidth": 1.1, "labelFont": "Liberation Sans", "labelFontSize": 17, "labelColor": "black", "labelFlush": false, "labelOverlap": false, "labelBound": false, "titleFont": "Liberation Sans", "titleFontSize": 17, "titleFontWeight": "normal", "titleColor": "black"},
"axisX": {"labelPadding": 15, "labelBaseline": "top", "labelAngle": 0, "labelAlign": "center", "titleY": 84, "titleBaseline": "alphabetic"},
"axisY": {"labelAngle": -90, "labelAlign": "center", "labelBaseline": "alphabetic", "labelPadding": 15, "titleAngle": -90, "titleX": -72, "titleY": 51, "titleAlign": "center", "titleBaseline": "alphabetic"},
"title": {"font": "Liberation Sans", "fontSize": 22, "fontWeight": "bold", "color": "black", "anchor": "middle", "frame": "group", "baseline": "alphabetic", "offset": 31}
}
}
